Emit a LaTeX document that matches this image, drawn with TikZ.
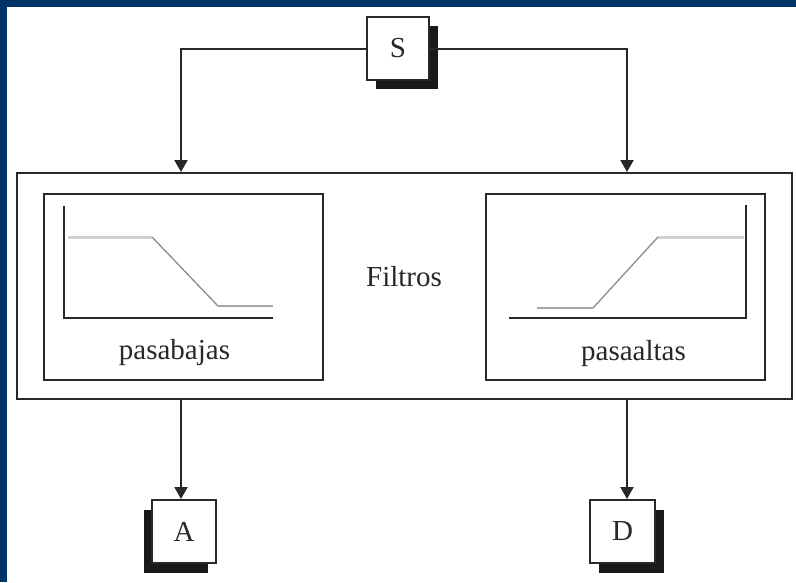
\documentclass[tikz,border=0pt]{standalone}
\usepackage{fontspec}
\setmainfont{Liberation Serif}
\usetikzlibrary{arrows.meta,shadows}
\definecolor{navy}{RGB}{0,51,102}
\definecolor{ink}{RGB}{40,40,40}
\begin{document}
\begin{tikzpicture}[x=1pt,y=-1pt,
  lbl/.style={font=\fontsize{29}{34}\selectfont, inner sep=0pt, anchor=base, text=ink},
  frame/.style={draw=ink, line width=2pt, inner sep=0pt, fill=white},
  keybox/.style={frame, minimum height=63pt, font=\fontsize{29}{34}\selectfont, text=ink},
  arr/.style={draw=ink, line width=2pt, -{Triangle[width=13pt,length=12pt]}},
  axis/.style={draw=ink, line width=2pt},
  flat/.style={draw=black!18, line width=3pt},
  slope/.style={draw=black!45, line width=1.3pt},
  low/.style={draw=black!35, line width=1.8pt}]
\useasboundingbox (0,0) rectangle (796,582);
\fill[white] (0,0) rectangle (796,582);
\fill[navy] (0,0) rectangle (796,7);
\fill[navy] (0,0) rectangle (7,582);

% outer and inner frames
\node[frame, minimum width=775pt, minimum height=226pt] (outer) at (404.5,286) {};
\node[frame, minimum width=279pt, minimum height=186pt] (lp) at (183.5,287) {};
\node[frame, minimum width=279pt, minimum height=186pt] (hp) at (625.5,287) {};

% low-pass plot
\draw[flat] (68,237) -- (152,237);
\draw[slope] (152,237) -- (218,306);
\draw[low] (218,306) -- (273,306);
\draw[axis] (64,206) -- (64,318) -- (273,318);
% high-pass plot
\draw[low] (537,308) -- (593,308);
\draw[slope] (593,308) -- (658,237);
\draw[flat] (658,237) -- (744,237);
\draw[axis] (509,318) -- (746,318) -- (746,205);

\node[lbl] (ftxt) at (404,286) {Filtros};
\node[lbl] (lptxt) at (174.5,359) {pasabajas};
\node[lbl] (hptxt) at (633.5,360) {pasaaltas};

% key boxes with shadows
\node[keybox, minimum width=62pt, drop shadow={shadow xshift=9pt, shadow yshift=-9pt, fill=black!90, opacity=1}] (S) at (398,48.5) {S};
\node[keybox, minimum width=64pt, drop shadow={shadow xshift=-8pt, shadow yshift=-10pt, fill=black!90, opacity=1}] (A) at (184,531.5) {A};
\node[keybox, minimum width=65pt, drop shadow={shadow xshift=9pt, shadow yshift=-10pt, fill=black!90, opacity=1}] (D) at (622.5,531.5) {D};

\coordinate (lx) at (181,0);
\coordinate (rx) at (627,0);

\draw[arr] (S.west) -| (outer.north -| lx);
\draw[arr] (S.east) -| (outer.north -| rx);
\draw[arr] (outer.south -| lx) -- (A.north -| lx);
\draw[arr] (outer.south -| rx) -- (D.north -| rx);
\end{tikzpicture}
\end{document}
